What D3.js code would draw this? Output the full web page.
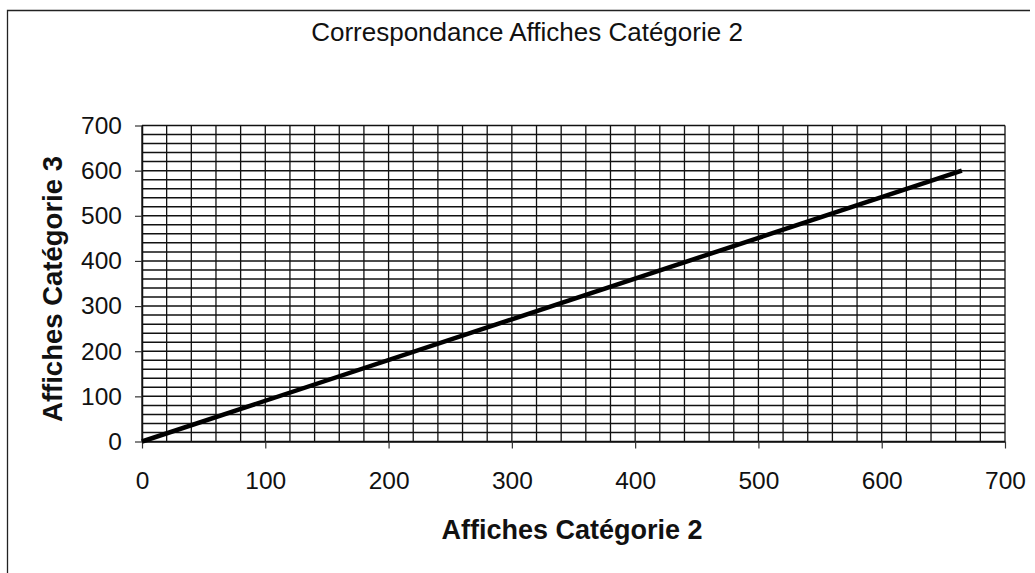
<!DOCTYPE html>
<html>
<head>
<meta charset="utf-8">
<script src="https://cdn.jsdelivr.net/npm/d3@7/dist/d3.min.js"></script>
<style>
  html, body { margin: 0; padding: 0; background: #fff; }
  svg { display: block; font-family: "Liberation Sans", Arial, sans-serif; }
</style>
</head>
<body>
<svg id="chart" width="1035" height="573"></svg>
<script>
// values
const cat2 = [0, 665];   // Affiches Catégorie 2
const cat3 = [0, 600];   // Affiches Catégorie 3
const xTicks = [0, 100, 200, 300, 400, 500, 600, 700];
const yTicks = [0, 100, 200, 300, 400, 500, 600, 700];
const gridStep = 20;

const svg = d3.select("#chart");
const W = 1035, H = 573;
const plot = { left: 142, right: 1005, top: 125.5, bottom: 441.5 };

const x = d3.scaleLinear().domain([0, 700]).range([plot.left, plot.right]);
const y = d3.scaleLinear().domain([0, 700]).range([plot.bottom, plot.top]);

svg.append("rect").attr("width", W).attr("height", H).attr("fill", "#fff");

// outer chart frame (only left and top visible in the scan)
svg.append("path")
  .attr("d", "M7.5,573 V10.5 H1030")
  .attr("fill", "none").attr("stroke", "#222").attr("stroke-width", 1.3);

// minor gridlines every 20 units
const grid = d3.range(0, 701, gridStep);
svg.append("g").selectAll("line").data(grid).join("line")
  .attr("x1", d => x(d)).attr("x2", d => x(d))
  .attr("y1", plot.top).attr("y2", plot.bottom)
  .attr("stroke", "#111").attr("stroke-width", 1.3);
svg.append("g").selectAll("line").data(grid).join("line")
  .attr("x1", plot.left).attr("x2", plot.right)
  .attr("y1", d => y(d)).attr("y2", d => y(d))
  .attr("stroke", "#111").attr("stroke-width", 1.5);

// axes
const xAxis = svg.append("g")
  .attr("transform", `translate(0,${plot.bottom})`)
  .call(d3.axisBottom(x).tickValues(xTicks).tickSize(7).tickPadding(23).tickSizeOuter(0));
const yAxis = svg.append("g")
  .attr("transform", `translate(${plot.left},0)`)
  .call(d3.axisLeft(y).tickValues(yTicks).tickSize(7).tickPadding(13).tickSizeOuter(0));

[xAxis, yAxis].forEach(g => {
  g.select(".domain").attr("stroke", "#111").attr("stroke-width", 1.5);
  g.selectAll(".tick line").attr("stroke", "#333").attr("stroke-width", 1.2);
  g.selectAll(".tick text")
    .attr("font-family", "'Liberation Sans', Arial, sans-serif")
    .attr("font-size", 24.5).attr("fill", "#111");
});

// data line
const line = d3.line().x(d => x(d[0])).y(d => y(d[1]));
svg.append("path")
  .datum(d3.zip(cat2, cat3))
  .attr("d", line)
  .attr("fill", "none").attr("stroke", "#000").attr("stroke-width", 4.5)
  .attr("stroke-linecap", "butt");

// titles
svg.append("text")
  .attr("x", 527).attr("y", 41)
  .attr("text-anchor", "middle")
  .attr("font-size", 26).attr("fill", "#111")
  .text("Correspondance Affiches Catégorie 2");

svg.append("text")
  .attr("x", 572).attr("y", 539)
  .attr("text-anchor", "middle")
  .attr("font-size", 27).attr("font-weight", "bold").attr("fill", "#111")
  .text("Affiches Catégorie 2");

svg.append("text")
  .attr("transform", "translate(62,289) rotate(-90)")
  .attr("text-anchor", "middle")
  .attr("font-size", 27.5).attr("font-weight", "bold").attr("fill", "#111")
  .text("Affiches Catégorie 3");
</script>
</body>
</html>
